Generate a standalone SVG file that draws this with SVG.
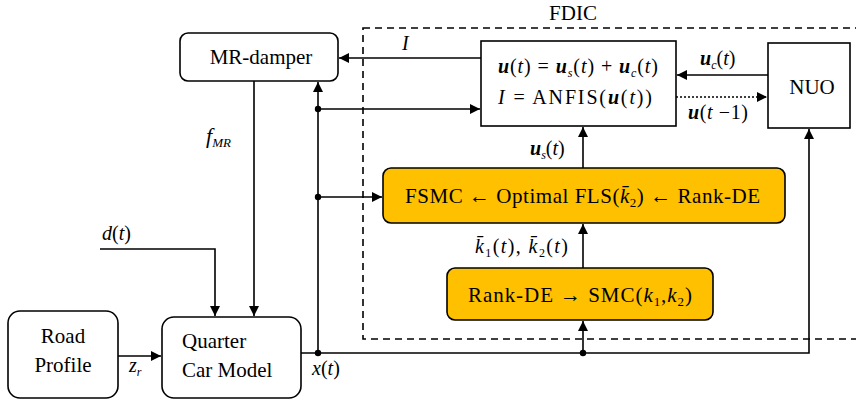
<svg xmlns="http://www.w3.org/2000/svg" width="856" height="403" viewBox="0 0 856 403">
<style>
.box{fill:#fff;stroke:#000;stroke-width:1.6}
.ob{fill:#FFC000;stroke:#000;stroke-width:1.6}
.ln{fill:none;stroke:#000;stroke-width:1.6}
</style>
<defs>
<marker id="a" viewBox="0 0 10 10" refX="10" refY="5" markerWidth="10" markerHeight="10" markerUnits="userSpaceOnUse" orient="auto">
<path d="M0,0 L10,5 L0,10 z" fill="#000"/>
</marker>
</defs>
<rect x="363" y="28" width="500" height="311" fill="none" stroke="#000" stroke-width="1.6" stroke-dasharray="7,5"/>
<text x="573" y="20" font-family="Liberation Serif" font-size="21" text-anchor="middle">FDIC</text>
<g id="connectors">
<path class="ln" d="M481,58 H339" marker-end="url(#a)"/>
<path class="ln" d="M318,353 V82" marker-end="url(#a)"/>
<path class="ln" d="M318,109 H480" marker-end="url(#a)"/>
<path class="ln" d="M318,197 H382" marker-end="url(#a)"/>
<path class="ln" d="M254,81 V316" marker-end="url(#a)"/>
<path class="ln" d="M100,249 H215 V316" marker-end="url(#a)"/>
<path class="ln" d="M118,356 H161" marker-end="url(#a)"/>
<path class="ln" d="M301,353 H809 V129" marker-end="url(#a)"/>
<path class="ln" d="M583,353 V321" marker-end="url(#a)"/>
<path class="ln" d="M583,268 V224" marker-end="url(#a)"/>
<path class="ln" d="M583,168 V127" marker-end="url(#a)"/>
<path class="ln" d="M768,75 H677" marker-end="url(#a)"/>
<path class="ln" d="M676,97 H767" stroke-dasharray="2,2" marker-end="url(#a)"/>
<circle cx="318" cy="109" r="3.2"/>
<circle cx="318" cy="197" r="3.2"/>
<circle cx="318" cy="353" r="3.2"/>
<circle cx="583" cy="353" r="3.2"/>
<text x="402" y="50" font-family="Liberation Serif" font-size="20" font-style="italic">I</text>
<text x="206" y="143" font-family="Liberation Serif" font-size="22" font-style="italic">f<tspan font-size="13" dy="4">MR</tspan></text>
<text x="102" y="240" font-family="Liberation Serif" font-size="20" font-style="italic">d<tspan font-style="normal">(</tspan>t<tspan font-style="normal">)</tspan></text>
<text x="129" y="372" font-family="Liberation Serif" font-size="20" font-style="italic">z<tspan font-size="12" dy="4">r</tspan></text>
<text x="312" y="375" font-family="Liberation Serif" font-size="20" font-style="italic">x<tspan font-style="normal">(</tspan>t<tspan font-style="normal">)</tspan></text>
<text x="530" y="155" font-family="Liberation Serif" font-size="20" font-style="italic"><tspan font-weight="bold">u</tspan><tspan font-size="12" dy="4">s</tspan><tspan dy="-4" font-style="normal">(</tspan>t<tspan font-style="normal">)</tspan></text>
<text x="475" y="253" font-family="Liberation Serif" font-size="20" font-style="italic" textLength="93">k̄<tspan font-size="12" dy="4" font-style="normal">1</tspan><tspan dy="-4" font-style="normal">(</tspan>t<tspan font-style="normal">), </tspan>k̄<tspan font-size="12" dy="4" font-style="normal">2</tspan><tspan dy="-4" font-style="normal">(</tspan>t<tspan font-style="normal">)</tspan></text>
<text x="700" y="65" font-family="Liberation Serif" font-size="20" font-style="italic"><tspan font-weight="bold">u</tspan><tspan font-size="12" dy="4">c</tspan><tspan dy="-4" font-style="normal">(</tspan>t<tspan font-style="normal">)</tspan></text>
<text x="688" y="119" font-family="Liberation Serif" font-size="20" font-style="italic" textLength="60"><tspan font-weight="bold">u</tspan><tspan font-style="normal">(</tspan>t<tspan font-style="normal"> −1)</tspan></text>
</g>
<g id="mr-damper">
<rect class="box" x="180" y="33" width="158" height="48" rx="8"/>
<text x="261" y="64" font-family="Liberation Serif" font-size="21" text-anchor="middle">MR-damper</text>
</g>
<g id="anfis">
<rect class="box" x="481" y="41" width="195" height="85"/>
<text x="498" y="73" font-family="Liberation Serif" font-size="20" font-style="italic" textLength="160"><tspan font-weight="bold">u</tspan><tspan font-style="normal">(</tspan>t<tspan font-style="normal">) = </tspan><tspan font-weight="bold">u</tspan><tspan font-size="12" dy="4">s</tspan><tspan dy="-4" font-style="normal">(</tspan>t<tspan font-style="normal">) + </tspan><tspan font-weight="bold">u</tspan><tspan font-size="12" dy="4">c</tspan><tspan dy="-4" font-style="normal">(</tspan>t<tspan font-style="normal">)</tspan></text>
<text x="498" y="104" font-family="Liberation Serif" font-size="20" font-style="italic" textLength="154">I<tspan font-style="normal"> = ANFIS(</tspan><tspan font-weight="bold">u</tspan><tspan font-style="normal">(</tspan>t<tspan font-style="normal">))</tspan></text>
</g>
<g id="nuo">
<rect class="box" x="768" y="43" width="82" height="85"/>
<text x="812" y="94" font-family="Liberation Serif" font-size="21" text-anchor="middle">NUO</text>
</g>
<g id="fsmc">
<rect class="ob" x="383" y="168" width="402" height="55" rx="8"/>
<text x="405" y="203" font-family="Liberation Serif" font-size="21" textLength="355">FSMC ← Optimal FLS(<tspan font-style="italic">k̄</tspan><tspan font-size="13" dy="4">2</tspan><tspan dy="-4">) ← Rank-DE</tspan></text>
</g>
<g id="rankde">
<rect class="ob" x="447" y="268" width="266" height="52" rx="8"/>
<text x="468" y="302" font-family="Liberation Serif" font-size="21" textLength="224">Rank-DE → SMC(<tspan font-style="italic">k</tspan><tspan font-size="13" dy="4">1</tspan><tspan dy="-4">,</tspan><tspan font-style="italic">k</tspan><tspan font-size="13" dy="4">2</tspan><tspan dy="-4">)</tspan></text>
</g>
<g id="road">
<rect class="box" x="8" y="311" width="110" height="87" rx="12"/>
<text x="63" y="343" font-family="Liberation Serif" font-size="21" text-anchor="middle">Road</text>
<text x="63" y="372" font-family="Liberation Serif" font-size="21" text-anchor="middle">Profile</text>
</g>
<g id="quarter">
<rect class="box" x="162" y="317" width="139" height="81" rx="12"/>
<text x="182" y="348" font-family="Liberation Serif" font-size="21">Quarter</text>
<text x="182" y="377" font-family="Liberation Serif" font-size="21">Car Model</text>
</g>
</svg>
